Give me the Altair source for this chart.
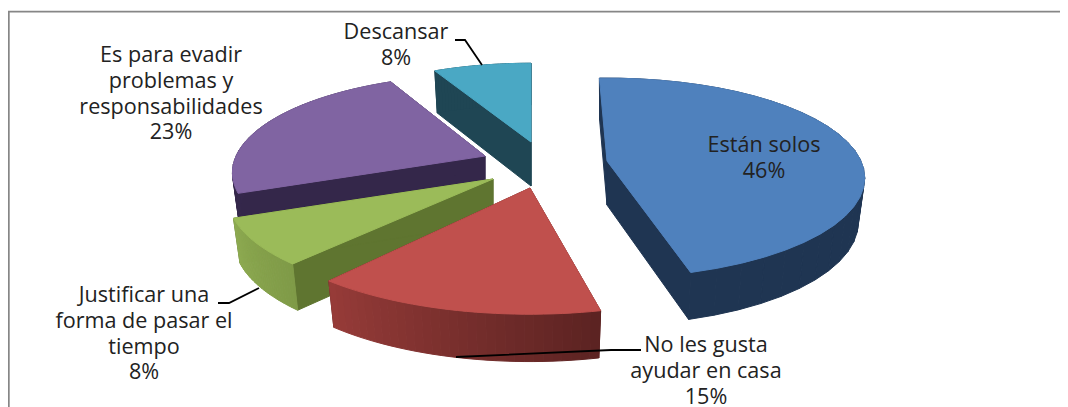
import numpy as np
import pandas as pd
import altair as alt

# --- chart values
categories = ["Están solos", "No les gusta ayudar en casa", "Justificar una forma de pasar el tiempo",
              "Es para evadir problemas y responsabilidades", "Descansar"]
shares = [46, 15, 8, 23, 8]

# --- styles and layout (separate from the values)
top_colors = ["#4F81BD", "#C0504D", "#9BBB59", "#8064A2", "#4AA8C4"]
face_colors = ["#1F3552", "#5E2422", "#5F7530", "#34274A", "#1F4654"]
rim_from = ["#1F3552", "#963B38", "#8DAA51", "#3A2C52", "#1F4654"]
rim_to = ["#1F3552", "#5C2322", "#7F9A47", "#34274A", "#1F4654"]
apex_x = [607, 530, 493, 485, 531]
apex_y = [161, 188, 179, 156, 142]
radius_k = [1.0, 1.08, 1.03, 0.98, 0.95]
start_trim = [-2.0, 2.0, 2.4, 0.0, 1.5]
end_trim = [-1.6, 0.0, 0.0, 2.9, 0.0]
paint_order = [4, 3, 2, 1, 0]
A, B, P = 254.0, 97.0, 0.17
DEPTH, DEPTH_K, BOTTOM = 44.0, 5.0, 0.975

label_lines = [["Están solos", "46%"], ["No les gusta", "ayudar en casa", "15%"],
               ["Justificar una", "forma de pasar el", "tiempo", "8%"],
               ["Es para evadir", "problemas y", "responsabilidades", "23%"], ["Descansar", "8%"]]
label_x = [764, 706, 144, 171, 396]
label_y = [146, 346, 296, 56, 33]
LINE_GAP = 25.8
leaders = [[(456, 357), (611, 350), (641, 350)], [(218, 303), (229, 303), (259, 288)], [(455, 40), (465, 40), (482, 65)]]
W, H = 1052, 399


def mix(a, b, t):
    ca = [int(a[i:i + 2], 16) for i in (1, 3, 5)]
    cb = [int(b[i:i + 2], 16) for i in (1, 3, 5)]
    return "#%02x%02x%02x" % tuple(int(round(x + (y - x) * t)) for x, y in zip(ca, cb))


def top(i, th, r=1.0):
    u, v = np.sin(th) * r, np.cos(th) * r
    s = radius_k[i] / (1 + P * v)
    return apex_x[i] + A * u * s, apex_y[i] - B * v * s


def bottom(i, th, r=1.0):
    u, v = np.sin(th) * r, np.cos(th) * r
    s = radius_k[i] / (1 + P * v)
    return apex_x[i] + A * BOTTOM * u * s, apex_y[i] - B * BOTTOM * v * s + DEPTH - DEPTH_K * v * s


rows = []
pid = 0


def add(points, color):
    global pid
    for k, (x, y) in enumerate(points):
        rows.append({"pid": pid, "k": k, "x": float(x), "y": float(y), "c": color})
    pid += 1


edges = np.cumsum([0] + shares) / sum(shares) * 2 * np.pi
for i in paint_order:
    a0 = edges[i] + np.radians(start_trim[i])
    a1 = edges[i + 1] + np.radians(end_trim[i])
    ths = np.linspace(a0, a1, 32)
    for th in (a0, a1):
        add([top(i, th, 0), top(i, th), bottom(i, th), bottom(i, th, 0)], face_colors[i])
    for j in range(len(ths) - 1):
        add([top(i, ths[j]), top(i, ths[j + 1]), bottom(i, ths[j + 1]), bottom(i, ths[j])],
            mix(rim_from[i], rim_to[i], 1 - j / (len(ths) - 2)))
    add([top(i, a0, 0)] + [top(i, t) for t in ths], top_colors[i])

polys = pd.DataFrame(rows)
xs = alt.X("x:Q", scale=alt.Scale(domain=[8, 8 + W]), axis=None)
ys = alt.Y("y:Q", scale=alt.Scale(domain=[8 + H, 8]), axis=None)

pie = alt.Chart(polys).mark_line(filled=True, strokeWidth=1, interpolate="linear-closed").encode(
    x=xs, y=ys, detail="pid:N", order="k:Q",
    fill=alt.Fill("c:N", scale=None), stroke=alt.Stroke("c:N", scale=None))

lead = pd.DataFrame([{"id": n, "k": k, "x": p[0], "y": p[1]} for n, l in enumerate(leaders) for k, p in enumerate(l)])
lead_ch = alt.Chart(lead).mark_line(color="#000000", strokeWidth=1.8).encode(x=xs, y=ys, detail="id:N", order="k:Q")

frame = pd.DataFrame({"x": [8.8, 8.8, 8 + W], "y": [8 + H, 11.6, 11.6], "k": [0, 1, 2]})
frame_ch = alt.Chart(frame).mark_line(color="#868686", strokeWidth=1.8).encode(x=xs, y=ys, order="k:Q")

txt = pd.DataFrame([{"t": t, "x": label_x[i], "y": label_y[i] + n * LINE_GAP}
                    for i, lines in enumerate(label_lines) for n, t in enumerate(lines)])
text_ch = alt.Chart(txt).mark_text(font="Open Sans", fontSize=21.6, color="#222222", align="center", baseline="middle").encode(
    x=xs, y=ys, text="t:N")

chart = alt.layer(frame_ch, pie, lead_ch, text_ch).properties(
    width=W, height=H, padding=0, autosize=alt.AutoSizeParams(type="none")
).configure_view(stroke=None)
chart.save("out.html", embed_options={"renderer": "svg", "actions": False})
